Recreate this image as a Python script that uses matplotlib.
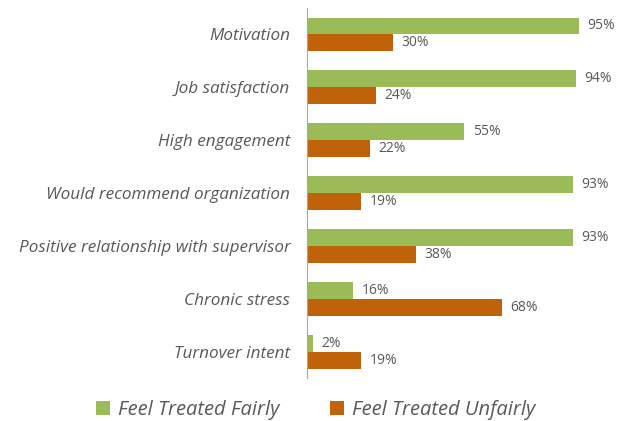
import numpy as np
import matplotlib.pyplot as plt

categories = ["Motivation", "Job satisfaction", "High engagement",
              "Would recommend organization", "Positive relationship with supervisor",
              "Chronic stress", "Turnover intent"]
fair = [95, 94, 55, 93, 93, 16, 2]
unfair = [30, 24, 22, 19, 38, 68, 19]

green = "#9BBB59"
orange = "#C0620A"
grey = "#595959"

plt.rcParams['font.family'] = ['Open Sans', 'DejaVu Sans']

fig = plt.figure(figsize=(6.31, 4.21), dpi=100)
ax = fig.add_axes([0.4865, 0.102, 0.4535, 0.879])

y = np.arange(len(categories))
h = 0.32
b1 = ax.barh(y - h / 2, fair, height=h, color=green, label="Feel Treated Fairly")
b2 = ax.barh(y + h / 2, unfair, height=h, color=orange, label="Feel Treated Unfairly")

for bars in (b1, b2):
    for rect in bars:
        w = rect.get_width()
        ax.text(w + 3, rect.get_y() + rect.get_height() / 2, f"{w:.0f}%",
                va="center", ha="left", fontsize=10, color=grey)

ax.set_xlim(0, 100)
ax.set_ylim(len(categories) - 0.5, -0.5)
ax.set_yticks(y)
ax.set_yticklabels(categories, fontsize=12.3, style="italic", color=grey)
ax.tick_params(axis="y", length=0, pad=12)
ax.set_xticks([])
for s in ("top", "right", "bottom"):
    ax.spines[s].set_visible(False)
ax.spines["left"].set_color("#A6A6A6")

fig.legend(handles=[b1, b2], loc="center", bbox_to_anchor=(0.5, 0.026),
           ncol=2, frameon=False, handlelength=0.7, handleheight=0.7,
           columnspacing=2.5, handletextpad=0.4,
           prop={'style': 'italic', 'size': 14.5}, labelcolor=grey)

fig.savefig("out.png", dpi=100)
